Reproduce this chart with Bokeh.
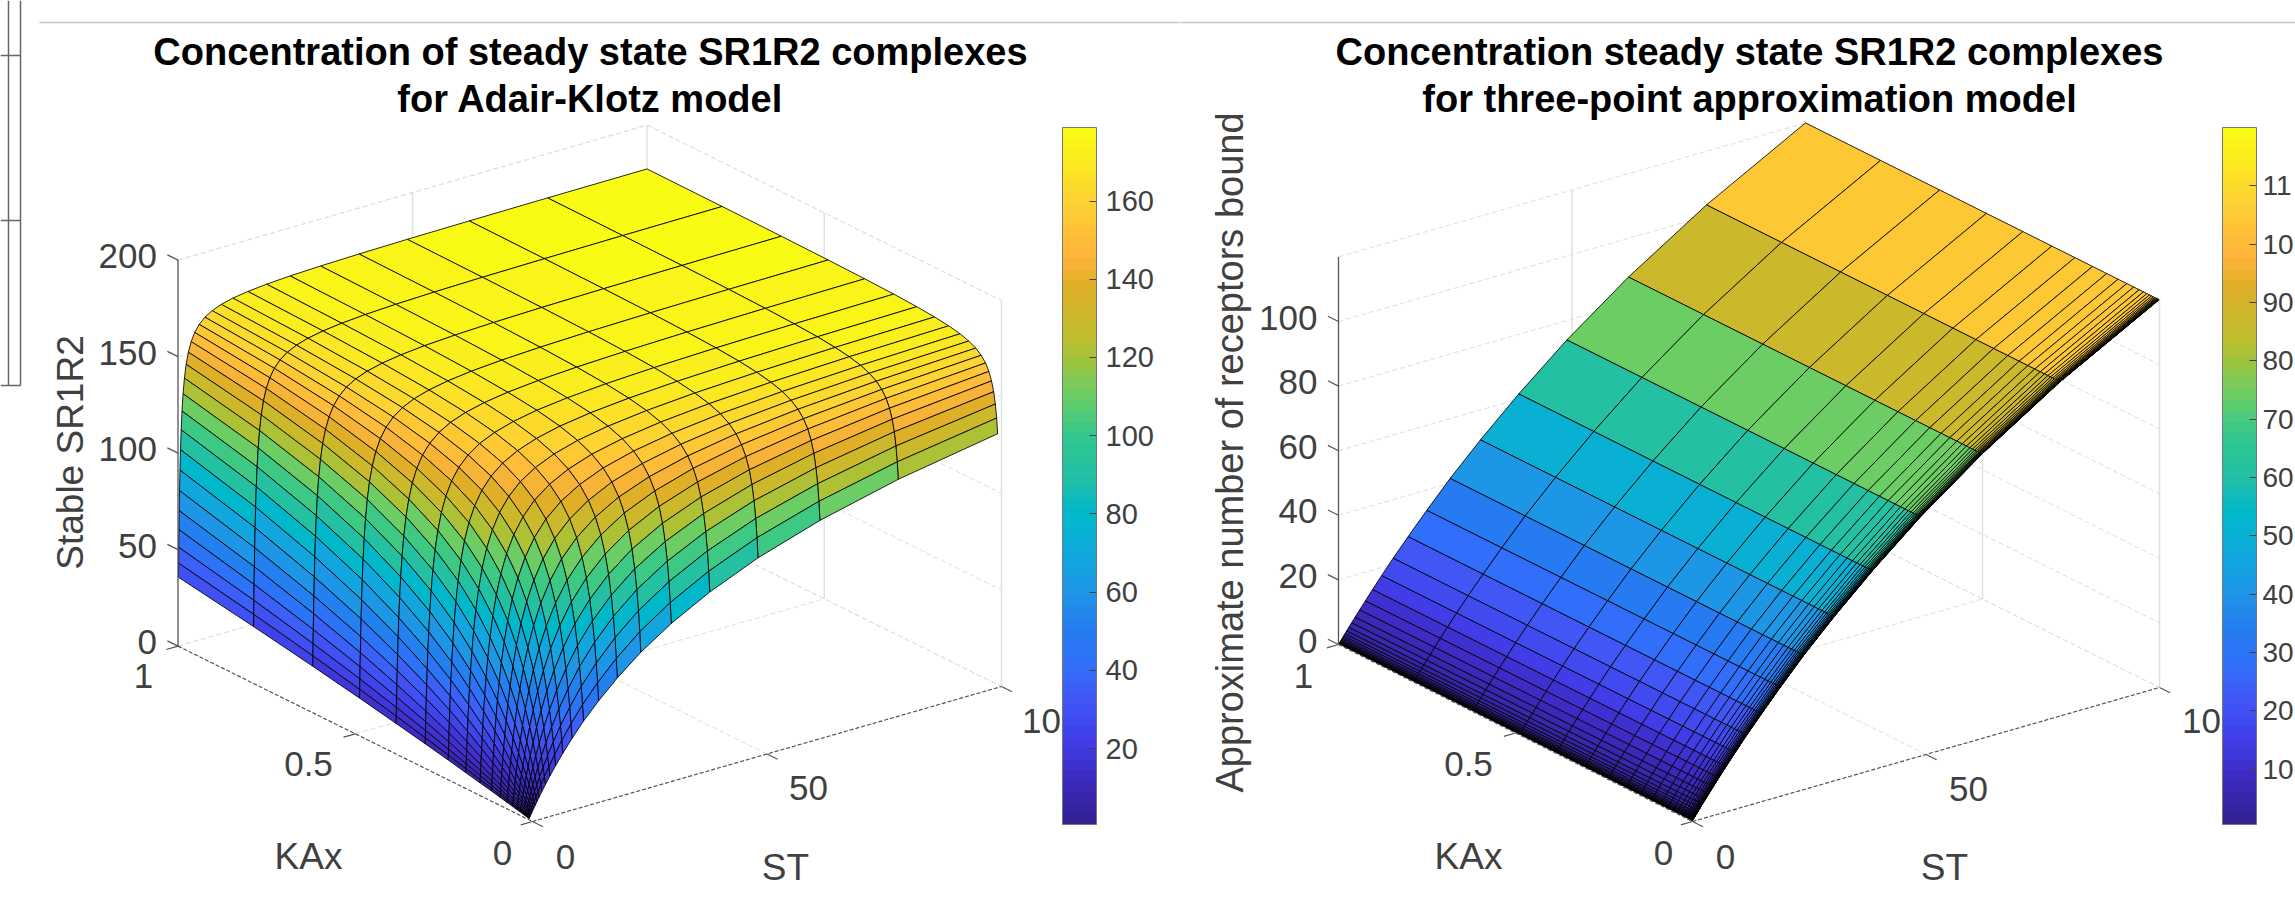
from bokeh.plotting import figure
from bokeh.layouts import row
from bokeh.models import Range1d, LinearColorMapper, ColorBar, FixedTicker, ColumnDataSource
from bokeh.core.properties import value
from bokeh.embed import file_html
from bokeh.resources import INLINE
import numpy as np

# ---------- data ----------
st_levels = [0.1, 0.127, 0.161, 0.204, 0.259, 0.329, 0.418, 0.53, 0.672, 0.853, 1.08, 1.37, 1.74, 2.21, 2.81,
             3.56, 4.52, 5.74, 7.28, 9.24, 11.7, 14.9, 18.9, 23.9, 30.4, 38.6, 48.9, 62.1, 78.8, 100]
kax_left = [0.0108, 0.0137, 0.0174, 0.0221, 0.0281, 0.0356, 0.0452, 0.0574, 0.0728, 0.0924,
            0.117, 0.149, 0.189, 0.239, 0.304, 0.386, 0.489, 0.621, 0.788, 1]
kax_right = [0.001, 0.00127, 0.00161, 0.00204, 0.00259, 0.00329, 0.00418, 0.0053, 0.00672, 0.00853] + kax_left

# Adair-Klotz surface: constant along the grid's anti-diagonals, read along them
adair_diagonal = [0.48, 0.61, 0.77, 0.98, 1.24, 1.57, 1.99, 2.52, 3.18, 4.02, 5.07, 6.38, 8.02, 10.05, 12.57,
                  15.65, 19.40, 23.91, 29.30, 35.60, 42.86, 51.08, 60.18, 69.99, 80.34, 90.91, 101.42, 111.59,
                  121.19, 129.98, 137.86, 144.78, 150.75, 155.80, 160.03, 163.53, 166.40, 168.73, 170.61,
                  172.13, 173.34, 174.31, 175.08, 175.69, 176.17, 176.56, 176.86, 177.10, 177.29]
# three-point surface: the same height at every KAx for a given ST
three_point_by_st = [0.20, 0.26, 0.32, 0.41, 0.52, 0.66, 0.84, 1.06, 1.35, 1.71, 2.17, 2.74, 3.47, 4.39, 5.55,
                     7.00, 8.83, 11.12, 13.97, 17.50, 21.86, 27.20, 33.69, 41.49, 50.73, 61.56, 74.00, 88.0,
                     103.4, 120.0]

left_title = ["Concentration of steady state SR1R2 complexes", "for Adair-Klotz model"]
right_title = ["Concentration steady state SR1R2 complexes", "for three-point approximation model"]
left_z_ticks = [0, 50, 100, 150, 200]
right_z_ticks = [0, 20, 40, 60, 80, 100]
left_cb_ticks = [20, 40, 60, 80, 100, 120, 140, 160]
right_cb_ticks = [10, 20, 30, 40, 50, 60, 70, 80, 90, 100, 110]

# ---------- colour map ----------
knots = [0, .056, .11, .17, .22, .28, .33, .39, .45, .49, .56, .62, .67, .70, .78, .82, .90, 1]
cols = [(50, 35, 150), (60, 40, 190), (65, 60, 230), (65, 85, 245), (50, 110, 250), (35, 125, 240), (30, 150, 230),
        (15, 170, 220), (0, 185, 200), (30, 190, 170), (50, 200, 140), (110, 205, 100), (160, 195, 60),
        (190, 190, 45), (225, 175, 40), (255, 180, 60), (253, 210, 50), (249, 251, 20)]
t = np.linspace(0, 1, 64)
palette = ["#%02x%02x%02x" % tuple(int(round(np.interp(v, knots, [c[n] for c in cols]))) for n in range(3)) for v in t]

FONT = value("Liberation Sans")
GREY = "#404040"


def panel(x0, x1, F, R, L, zs, st, kax, zrows, z_ticks, z_top, z_label, label_x, z_label_size, title, title_x,
          tick_pos, cb_left, cb_range, cb_ticks, cb_over, cb_size, cb_standoff):
    p = figure(width=x1 - x0, height=912, x_range=Range1d(x0, x1), y_range=Range1d(912, 0), output_backend="svg",
               toolbar_location=None, x_axis_type=None, y_axis_type=None, min_border=0, outline_line_color=None)
    p.grid.visible = False
    p.background_fill_color = "white"

    def pr(s, k, z=0.0):
        return (F[0] + s / 100 * (R[0] - F[0]) + k * (L[0] - F[0]),
                F[1] + s / 100 * (R[1] - F[1]) + k * (L[1] - F[1]) - z * zs)

    def seg(a, b, **kw):
        p.line([a[0], b[0]], [a[1], b[1]], **kw)

    light = dict(line_color="#dedede", line_width=1, line_dash="5 3")
    solid = dict(line_color="#e0e0e0", line_width=1.5)
    # walls and floor
    for z in z_ticks + [z_top]:
        seg(pr(0, 1, z), pr(100, 1, z), **light)
        seg(pr(100, 1, z), pr(100, 0, z), **light)
    for s, k in [(0, 1), (50, 1), (100, 1), (100, 0.5), (100, 0)]:
        seg(pr(s, k), pr(s, k, z_top), **solid)
    seg(pr(50, 0), pr(50, 1), **light)
    seg(pr(0, 0.5), pr(100, 0.5), **light)
    seg(pr(0, 1), pr(100, 1), **light)
    seg(pr(100, 1), pr(100, 0), **light)

    # surface, far cells first
    xs, ys, c = [], [], []
    for i in range(len(st) - 2, -1, -1):
        for j in range(len(kax) - 2, -1, -1):
            quad = [(i, j), (i + 1, j), (i + 1, j + 1), (i, j + 1)]
            pts = [pr(st[a], kax[b], zrows[b][a]) for a, b in quad]
            xs.append([q[0] for q in pts])
            ys.append([q[1] for q in pts])
            c.append(zrows[j][i])
    mapper = LinearColorMapper(palette=palette, low=cb_range[0], high=cb_range[1])
    p.patches("x", "y", source=ColumnDataSource(dict(x=xs, y=ys, c=c)), fill_color={"field": "c", "transform": mapper},
              line_color="black", line_width=1, line_alpha=0.85)

    # axes
    ax = dict(line_color="#555555", line_width=1.2)
    axd = dict(line_color="#555555", line_width=1.2, line_dash="4 2")
    seg(pr(0, 1), pr(0, 1, z_top), **ax)
    seg(pr(0, 1), pr(0, 0), **axd)
    seg(pr(0, 0), pr(100, 0), **axd)
    for z in z_ticks:
        seg(pr(0, 1, z), pr(0, 1.03, z), **ax)
    for k in [0, 0.5, 1]:
        seg(pr(0, k), pr(-2.5, k), **ax)
    for s in [0, 50, 100]:
        seg(pr(s, 0), pr(s, -0.03), **ax)

    # texts
    txt = dict(text_font=FONT, text_color=GREY, text_baseline="middle")
    lx, ly, lt = [], [], []
    for z in z_ticks:
        lx.append(pr(0, 1, z)[0] - 21)
        ly.append(pr(0, 1, z)[1] - 4)
        lt.append(str(z))
    p.text(lx, ly, text=lt, text_align="right", text_font_size="35px", **txt)
    for (s, x, y) in tick_pos:
        size = "37px" if s in ("KAx", "ST") else "35px"
        p.text([x], [y], text=[s], text_align="center", text_font_size=size, **txt)
    p.text([label_x], [452], text=[z_label], angle=np.pi / 2, text_align="center", text_font_size=z_label_size, **txt)
    p.text([title_x, title_x], [51, 98], text=title, text_align="center", text_font_size="38px", text_font_style="bold",
           text_font=FONT, text_color="black", text_baseline="middle")

    # stray page furniture at the top of the screenshot
    seg((max(x0, 39), 22), (x1, 22), line_color="#c8c8c8", line_width=1.5)
    if x0 < 39:
        for x in (8, 20):
            seg((x, 0), (x, 385), line_color="#666666", line_width=1.5)
        for y in (55, 220, 385):
            seg((0, y), (20, y), line_color="#666666", line_width=1.5)

    cb = ColorBar(color_mapper=mapper, ticker=FixedTicker(ticks=cb_ticks), major_label_overrides=cb_over,
                  location=(cb_left - x0, 912 - 824), width=34, height=697, padding=0, margin=0,
                  major_tick_in=7, major_tick_line_color="#404040", bar_line_color="#777777", bar_line_width=1,
                  border_line_color=None, background_fill_color=None, label_standoff=cb_standoff,
                  major_label_text_font="Liberation Sans", major_label_text_font_size=cb_size,
                  major_label_text_color=GREY, major_label_text_baseline="middle")
    p.add_layout(cb)
    return p


left_rows = [adair_diagonal[j:j + len(st_levels)] for j in range(len(kax_left))]
right_rows = [three_point_by_st for _ in kax_right]

SPLIT = 1180
p1 = panel(0, SPLIT, (532, 821), (1001, 686), (177.5, 645.6), 1.93, st_levels, kax_left, left_rows,
           left_z_ticks, 200, "Stable SR1R2", 70, "37px", left_title, 590,
           [("1", 143, 675), ("0.5", 308, 763), ("0", 502, 852), ("KAx", 308, 856), ("0", 565, 856), ("50", 808, 787),
            ("10", 1041, 720), ("ST", 785, 867)],
           1062, (0.6, 178.8), left_cb_ticks, {}, "29px", 9)
p2 = panel(SPLIT, 2295, (1692, 821), (2159, 687), (1338, 644), 3.23, st_levels, kax_right, right_rows,
           right_z_ticks, 120, "Approximate number of receptors bound", 1229, "38px", right_title, 1749,
           [("1", 1303, 675), ("0.5", 1468, 763), ("0", 1663, 852), ("KAx", 1468, 856), ("0", 1725, 856),
            ("50", 1968, 788), ("10", 2201, 720), ("ST", 1944, 867)],
           2222, (0.5, 120), right_cb_ticks, {110: "11", 100: "10"}, "28px", 6)

layout = row(p1, p2, spacing=0)
open("out.html", "w").write(file_html(layout, INLINE))
